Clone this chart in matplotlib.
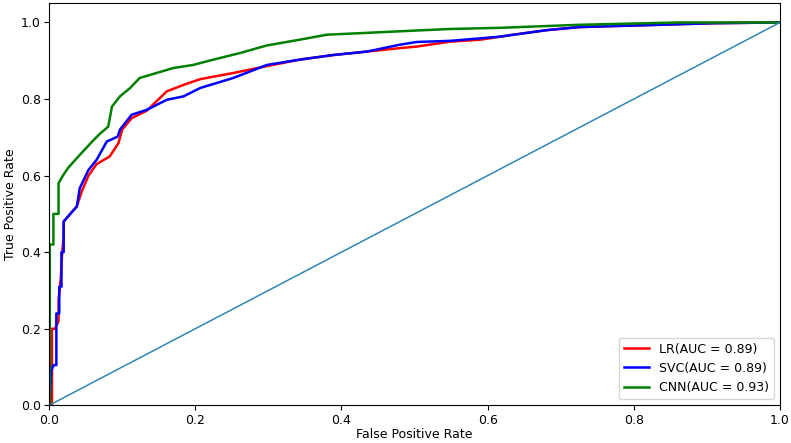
import matplotlib
matplotlib.use("Agg")
import matplotlib.pyplot as plt

lr_fpr = [0, 0.004, 0.004, 0.008, 0.013, 0.013, 0.016, 0.018, 0.02, 0.02, 0.029, 0.038, 0.045, 0.054, 0.065,
          0.083, 0.095, 0.1, 0.113, 0.134, 0.161, 0.184, 0.207, 0.252, 0.298, 0.343, 0.389, 0.435, 0.48,
          0.503, 0.549, 0.59, 0.635, 0.681, 0.726, 0.818, 0.908, 1.0]
lr_tpr = [0, 0, 0.2, 0.2, 0.22, 0.275, 0.33, 0.40, 0.44, 0.48, 0.50, 0.52, 0.56, 0.60, 0.63,
          0.65, 0.685, 0.72, 0.75, 0.77, 0.82, 0.837, 0.852, 0.868, 0.886, 0.903, 0.915, 0.924, 0.933,
          0.937, 0.95, 0.955, 0.968, 0.98, 0.988, 0.993, 0.998, 1.0]

svc_fpr = [0, 0.001, 0.003, 0.006, 0.01, 0.01, 0.014, 0.014, 0.017, 0.017, 0.02, 0.02, 0.029, 0.038, 0.042,
           0.054, 0.065, 0.079, 0.094, 0.097, 0.113, 0.134, 0.161, 0.184, 0.207, 0.252, 0.298, 0.343,
           0.389, 0.435, 0.48, 0.503, 0.549, 0.617, 0.681, 0.726, 0.818, 0.908, 1.0]
svc_tpr = [0, 0.014, 0.09, 0.105, 0.105, 0.24, 0.24, 0.31, 0.31, 0.40, 0.40, 0.48, 0.50, 0.519, 0.567,
           0.615, 0.641, 0.689, 0.702, 0.72, 0.759, 0.772, 0.798, 0.807, 0.829, 0.855, 0.889, 0.903,
           0.915, 0.924, 0.942, 0.949, 0.952, 0.963, 0.98, 0.988, 0.993, 0.998, 1.0]

cnn_fpr = [0, 0.001, 0.001, 0.006, 0.006, 0.013, 0.013, 0.019, 0.026, 0.042, 0.061, 0.07, 0.081, 0.086,
           0.097, 0.111, 0.124, 0.147, 0.17, 0.197, 0.225, 0.261, 0.298, 0.343, 0.38, 0.425, 0.503,
           0.549, 0.617, 0.726, 0.863, 1.0]
cnn_tpr = [0, 0, 0.42, 0.42, 0.50, 0.50, 0.58, 0.60, 0.62, 0.654, 0.693, 0.71, 0.728, 0.78,
           0.807, 0.829, 0.855, 0.868, 0.881, 0.889, 0.903, 0.92, 0.94, 0.955, 0.968, 0.972, 0.979,
           0.983, 0.986, 0.994, 1.0, 1.0]

labels = ["LR(AUC = 0.89)", "SVC(AUC = 0.89)", "CNN(AUC = 0.93)"]
diag = [0, 1]

fig = plt.figure(figsize=(7.91, 4.43), dpi=100)
ax = fig.add_axes([0.062, 0.085, 0.924, 0.9075])
ax.plot(lr_fpr, lr_tpr, color="red", lw=1.8, label=labels[0])
ax.plot(svc_fpr, svc_tpr, color="blue", lw=1.8, label=labels[1])
ax.plot(cnn_fpr, cnn_tpr, color="green", lw=1.8, label=labels[2])
ax.plot(diag, diag, color="#2e86b8", lw=1.1)
ax.set_xlim(0, 1)
ax.set_ylim(0, 1.05)
ax.set_xlabel("False Positive Rate", fontsize=9, labelpad=1)
ax.set_ylabel("True Positive Rate", fontsize=9, labelpad=3)
ax.tick_params(labelsize=9, pad=2.5)
ax.legend(loc="lower right", fontsize=9)
fig.savefig("out.png", dpi=100)
